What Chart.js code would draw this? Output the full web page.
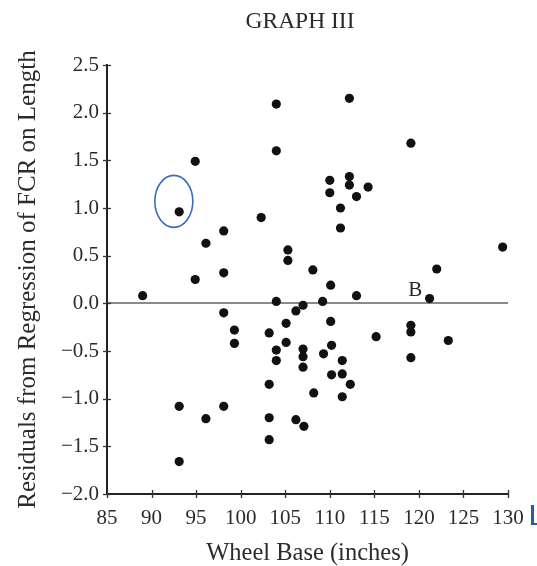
<!DOCTYPE html>
<html>
<head>
<meta charset="utf-8">
<title>Graph III</title>
<script src="https://cdn.jsdelivr.net/npm/chart.js@4.4.0/dist/chart.umd.min.js"></script>
<style>
    html, body { margin: 0; padding: 0; background: #fff; }
    #wrap { width: 537px; height: 566px; position: relative; }
</style>
</head>
<body>
<div id="wrap"><canvas id="residualChart"></canvas></div>
<script>
// Data
const wheelBase = [
    89.0, 93.1, 94.9, 96.1, 98.1, 94.9, 98.1, 102.3, 104.0, 104.0,
    105.3, 105.3, 104.0, 107.0, 108.1, 112.2, 119.1, 110.0, 110.0, 112.2,
    112.2, 114.3, 113.0, 111.2, 111.2, 129.4, 122.0, 110.1, 113.0, 109.2,
    121.2, 98.1, 99.3, 99.3, 93.1, 93.1, 96.1, 98.1, 103.2, 104.0,
    104.0, 105.1, 105.1, 106.2, 107.0, 107.0, 107.0, 103.2, 103.2, 103.2,
    106.2, 107.1, 110.1, 115.2, 119.1, 119.1, 119.1, 123.3, 109.3, 110.2,
    111.4, 111.4, 110.2, 112.3, 108.2, 111.4
];
const residuals = [
    0.08, 0.96, 1.49, 0.63, 0.76, 0.25, 0.32, 0.90, 2.09, 1.60,
    0.56, 0.45, 0.02, -0.02, 0.35, 2.15, 1.68, 1.29, 1.16, 1.33,
    1.24, 1.22, 1.12, 1.00, 0.79, 0.59, 0.36, 0.19, 0.08, 0.02,
    0.05, -0.10, -0.28, -0.42, -1.08, -1.66, -1.21, -1.08, -0.31, -0.49,
    -0.60, -0.21, -0.41, -0.08, -0.48, -0.56, -0.67, -0.85, -1.20, -1.43,
    -1.22, -1.29, -0.19, -0.35, -0.23, -0.30, -0.57, -0.39, -0.53, -0.44,
    -0.60, -0.74, -0.75, -0.85, -0.94, -0.98
];

// Axis ranges / tick steps
const xRange = [85, 130];
const yRange = [-2.0, 2.5];
const xStep = 5;
const yStep = 0.5;

// Marked points
const circledPoint = { x: 92.5, y: 1.07 };
const labelB = { text: 'B', x: 119.6, y: 0.13 };

const serif = '"Liberation Serif", "DejaVu Serif", serif';
const textColor = '#2b2b2b';

// Draws title, crossing tick marks, the blue circle and the B label
const decorations = {
    id: 'decorations',
    afterDraw(chart) {
        const ctx = chart.ctx;
        const xs = chart.scales.x;
        const ys = chart.scales.y;
        const area = chart.chartArea;

        ctx.save();

        // tick marks that cross the axis lines
        ctx.strokeStyle = '#333';
        ctx.lineWidth = 1.3;
        xs.ticks.forEach(t => {
            const px = Math.round(xs.getPixelForValue(t.value)) + 0.5;
            ctx.beginPath();
            ctx.moveTo(px, area.bottom - 4);
            ctx.lineTo(px, area.bottom + 4);
            ctx.stroke();
        });
        ys.ticks.forEach(t => {
            const py = Math.round(ys.getPixelForValue(t.value)) + 0.5;
            ctx.beginPath();
            ctx.moveTo(area.left - 4, py);
            ctx.lineTo(area.left + 4, py);
            ctx.stroke();
        });

        // title
        ctx.fillStyle = textColor;
        ctx.font = '23.5px ' + serif;
        ctx.textAlign = 'center';
        ctx.textBaseline = 'middle';
        ctx.fillText('GRAPH III', 300, 22);

        // "B" label
        ctx.font = '21px ' + serif;
        ctx.fillText(labelB.text, xs.getPixelForValue(labelB.x), ys.getPixelForValue(labelB.y));

        // blue circle around the highlighted point
        ctx.strokeStyle = '#3b6cc0';
        ctx.lineWidth = 1.6;
        ctx.beginPath();
        ctx.ellipse(xs.getPixelForValue(circledPoint.x), ys.getPixelForValue(circledPoint.y), 19, 26, 0, 0, Math.PI * 2);
        ctx.stroke();

        // small blue cursor mark next to the last tick label
        ctx.fillStyle = '#1f5fae';
        ctx.fillRect(531, 505, 3, 20);
        ctx.fillRect(531, 523, 6, 2);

        ctx.restore();
    }
};

const ctx = document.getElementById('residualChart').getContext('2d');
new Chart(ctx, {
    type: 'scatter',
    data: {
        datasets: [{
            data: wheelBase.map((x, i) => ({ x: x, y: residuals[i] })),
            backgroundColor: '#111',
            borderWidth: 0,
            pointRadius: 4.6,
            pointHoverRadius: 4.6
        }]
    },
    options: {
        responsive: true,
        maintainAspectRatio: false,
        animation: false,
        events: [],
        layout: {
            padding: { left: 0, right: 29, top: 65, bottom: 0 }
        },
        plugins: {
            legend: { display: false },
            tooltip: { enabled: false }
        },
        scales: {
            x: {
                type: 'linear',
                min: xRange[0],
                max: xRange[1],
                grid: { display: false, drawTicks: false },
                border: { display: true, color: '#222', width: 2 },
                ticks: {
                    stepSize: xStep,
                    padding: 12,
                    color: textColor,
                    font: { family: serif, size: 21 }
                },
                title: {
                    display: true,
                    text: 'Wheel Base (inches)',
                    color: textColor,
                    font: { family: serif, size: 24.5, lineHeight: 1 },
                    padding: { top: 0, bottom: 0 }
                },
                afterFit(scale) { scale.height = 72; }
            },
            y: {
                type: 'linear',
                min: yRange[0],
                max: yRange[1],
                grid: {
                    drawTicks: false,
                    color: c => (c.tick && c.tick.value === 0 ? '#8a8a8a' : 'rgba(0,0,0,0)'),
                    lineWidth: 2
                },
                border: { display: true, color: '#222', width: 2 },
                ticks: {
                    stepSize: yStep,
                    padding: 8,
                    color: textColor,
                    font: { family: serif, size: 21 },
                    callback: v => (v < 0 ? '\u2212' : '') + Math.abs(v).toFixed(1)
                },
                title: {
                    display: true,
                    text: 'Residuals from Regression of FCR on Length',
                    color: textColor,
                    font: { family: serif, size: 25, lineHeight: 1 },
                    padding: { top: 16, bottom: 0 }
                },
                afterFit(scale) { scale.width = 107; }
            }
        }
    },
    plugins: [decorations]
});
</script>
</body>
</html>
